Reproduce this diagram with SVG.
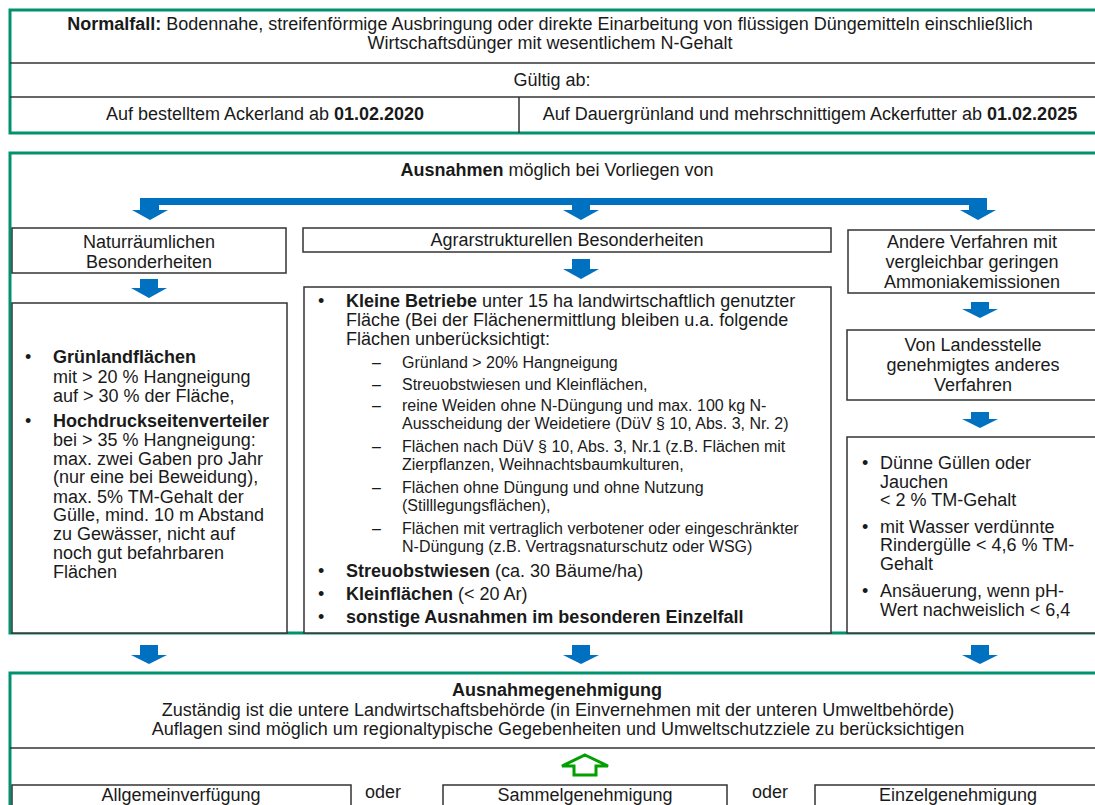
<svg xmlns="http://www.w3.org/2000/svg" width="1095" height="805" viewBox="0 0 1095 805">
<style>
text{font-family:"Liberation Sans",Arial,sans-serif;font-size:18px;fill:#1a1a1a}
.c{text-anchor:middle}
.b{font-weight:bold}
.s{font-size:16px}
.frame{fill:#fff;stroke:#00926e;stroke-width:3}
.box{fill:#fff;stroke:#333;stroke-width:1.5}
.sep{stroke:#333;stroke-width:1.5}
.arr{fill:#0070c0}
.up{fill:#fff;stroke:#00a000;stroke-width:3}
</style>
<rect width="1095" height="805" fill="#fff"/>

<g id="normalfall">
<rect class="frame" x="10" y="10" width="1095" height="123"/>
<line class="sep" x1="10" y1="63" x2="1095" y2="63"/>
<line class="sep" x1="10" y1="97" x2="1095" y2="97"/>
<line class="sep" x1="519" y1="97" x2="519" y2="133"/>
<text class="c" x="550" y="30"><tspan class="b">Normalfall:</tspan> Bodennahe, streifenförmige Ausbringung oder direkte Einarbeitung von flüssigen Düngemitteln einschließlich</text>
<text class="c" x="550" y="49">Wirtschaftsdünger mit wesentlichem N-Gehalt</text>
<text class="c" x="552" y="86">Gültig ab:</text>
<text class="c" x="265" y="120">Auf bestelltem Ackerland ab <tspan class="b">01.02.2020</tspan></text>
<text class="c" x="810" y="120">Auf Dauergrünland und mehrschnittigem Ackerfutter ab <tspan class="b">01.02.2025</tspan></text>
</g>

<g id="ausnahmen">
<rect class="frame" x="10" y="153" width="1095" height="480"/>
<text class="c" x="557" y="176"><tspan class="b">Ausnahmen</tspan> möglich bei Vorliegen von</text>
</g>

<g id="natur">
<rect class="box" x="12" y="228" width="274" height="45"/>
<text class="c" x="149" y="248">Naturräumlichen</text>
<text class="c" x="149" y="268">Besonderheiten</text>
</g>

<g id="agrar">
<rect class="box" x="303" y="228" width="528" height="24"/>
<text class="c" x="567" y="246">Agrarstrukturellen Besonderheiten</text>
</g>

<g id="andere">
<rect class="box" x="848" y="230" width="252" height="63"/>
<text class="c" x="972" y="248">Andere Verfahren mit</text>
<text class="c" x="972" y="268">vergleichbar geringen</text>
<text class="c" x="972" y="288">Ammoniakemissionen</text>
</g>

<g id="natur-liste">
<rect class="box" x="12" y="303" width="275" height="330"/>
<text x="25" y="363">•</text><text class="b" x="53" y="363">Grünlandflächen</text>
<text x="53" y="383">mit &gt; 20 % Hangneigung</text>
<text x="53" y="402">auf &gt; 30 % der Fläche,</text>
<text x="25" y="427">•</text><text class="b" x="53" y="427">Hochdruckseitenverteiler</text>
<text x="53" y="446">bei &gt; 35 % Hangneigung:</text>
<text x="53" y="465">max. zwei Gaben pro Jahr</text>
<text x="53" y="483">(nur eine bei Beweidung),</text>
<text x="53" y="503">max. 5% TM-Gehalt der</text>
<text x="53" y="521">Gülle, mind. 10 m Abstand</text>
<text x="53" y="540">zu Gewässer, nicht auf</text>
<text x="53" y="559">noch gut befahrbaren</text>
<text x="53" y="578">Flächen</text>
</g>

<g id="agrar-liste">
<rect class="box" x="304" y="287" width="527" height="346"/>
<text x="318" y="307">•</text><text x="346" y="307"><tspan class="b">Kleine Betriebe</tspan> unter 15 ha landwirtschaftlich genutzter</text>
<text x="346" y="326">Fläche (Bei der Flächenermittlung bleiben u.a. folgende</text>
<text x="346" y="345">Flächen unberücksichtigt:</text>
<text class="s" x="372" y="368">–</text><text class="s" x="402" y="368">Grünland &gt; 20% Hangneigung</text>
<text class="s" x="372" y="390">–</text><text class="s" x="402" y="390">Streuobstwiesen und Kleinflächen,</text>
<text class="s" x="372" y="411">–</text><text class="s" x="402" y="411">reine Weiden ohne N-Düngung und max. 100 kg N-</text>
<text class="s" x="402" y="429">Ausscheidung der Weidetiere (DüV § 10, Abs. 3, Nr. 2)</text>
<text class="s" x="372" y="452">–</text><text class="s" x="402" y="452">Flächen nach DüV § 10, Abs. 3, Nr.1 (z.B. Flächen mit</text>
<text class="s" x="402" y="470">Zierpflanzen, Weihnachtsbaumkulturen,</text>
<text class="s" x="372" y="493">–</text><text class="s" x="402" y="493">Flächen ohne Düngung und ohne Nutzung</text>
<text class="s" x="402" y="511">(Stilllegungsflächen),</text>
<text class="s" x="372" y="534">–</text><text class="s" x="402" y="534">Flächen mit vertraglich verbotener oder eingeschränkter</text>
<text class="s" x="402" y="552">N-Düngung (z.B. Vertragsnaturschutz oder WSG)</text>
<text x="318" y="577">•</text><text x="346" y="577"><tspan class="b">Streuobstwiesen</tspan> (ca. 30 Bäume/ha)</text>
<text x="318" y="600">•</text><text x="346" y="600"><tspan class="b">Kleinflächen</tspan> (&lt; 20 Ar)</text>
<text x="318" y="623">•</text><text class="b" x="346" y="623">sonstige Ausnahmen im besonderen Einzelfall</text>
</g>

<g id="landesstelle">
<rect class="box" x="847" y="330" width="253" height="70"/>
<text class="c" x="973" y="351">Von Landesstelle</text>
<text class="c" x="973" y="371">genehmigtes anderes</text>
<text class="c" x="973" y="391">Verfahren</text>
</g>

<g id="verfahren-liste">
<rect class="box" x="847" y="437" width="253" height="196"/>
<text x="862" y="469">•</text><text x="880" y="469">Dünne Güllen oder</text>
<text x="880" y="488">Jauchen</text>
<text x="880" y="506"> &lt; 2 % TM-Gehalt</text>
<text x="862" y="533">•</text><text x="880" y="533">mit Wasser verdünnte</text>
<text x="880" y="551">Rindergülle &lt; 4,6 % TM-</text>
<text x="880" y="570">Gehalt</text>
<text x="862" y="597">•</text><text x="880" y="597">Ansäuerung, wenn pH-</text>
<text x="880" y="616">Wert nachweislich &lt; 6,4</text>
</g>

<g id="genehmigung">
<rect class="frame" x="10" y="673" width="1095" height="150"/>
<text class="c b" x="557" y="696">Ausnahmegenehmigung</text>
<text class="c" x="558" y="716">Zuständig ist die untere Landwirtschaftsbehörde (in Einvernehmen mit der unteren Umweltbehörde)</text>
<text class="c" x="558" y="735">Auflagen sind möglich um regionaltypische Gegebenheiten und Umweltschutzziele zu berücksichtigen</text>
<line class="sep" x1="10" y1="748" x2="1095" y2="748"/>
</g>

<g id="allgemein">
<rect class="box" x="12" y="785" width="339" height="30"/>
<text class="c" x="181" y="801">Allgemeinverfügung</text>
</g>
<g id="oder1"><text class="c" x="383" y="798">oder</text></g>
<g id="sammel">
<rect class="box" x="443" y="785" width="284" height="30"/>
<text class="c" x="585" y="801">Sammelgenehmigung</text>
</g>
<g id="oder2"><text class="c" x="770" y="798">oder</text></g>
<g id="einzel">
<rect class="box" x="815" y="785" width="285" height="30"/>
<text class="c" x="958" y="801">Einzelgenehmigung</text>
</g>

<g id="connectors">
<rect class="arr" x="140" y="198" width="847" height="7"/>
<polygon class="arr" points="140,205 159,205 159,210 168,210 150,220 132,210 140,210"/>
<polygon class="arr" points="572,205 590,205 590,210 599,210 581,220 563,210 572,210"/>
<polygon class="arr" points="969,205 987,205 987,210 996,210 978,220 960,210 969,210"/>
<polygon class="arr" points="140,279 158,279 158,288 167,288 149,298 131,288 140,288"/>
<polygon class="arr" points="572,259 590,259 590,269 599,269 581,279 563,269 572,269"/>
<polygon class="arr" points="971,302 989,302 989,309 998,309 980,318 962,309 971,309"/>
<polygon class="arr" points="971,412 989,412 989,419 998,419 980,428 962,419 971,419"/>
<polygon class="arr" points="140,645 158,645 158,655 167,655 149,664 131,655 140,655"/>
<polygon class="arr" points="572,645 590,645 590,655 599,655 581,664 563,655 572,655"/>
<polygon class="arr" points="971,645 989,645 989,655 998,655 980,664 962,655 971,655"/>
<polygon class="up" points="585,755 608,766 596,766 596,775 574,775 574,766 562,766"/>
</g>
</svg>
